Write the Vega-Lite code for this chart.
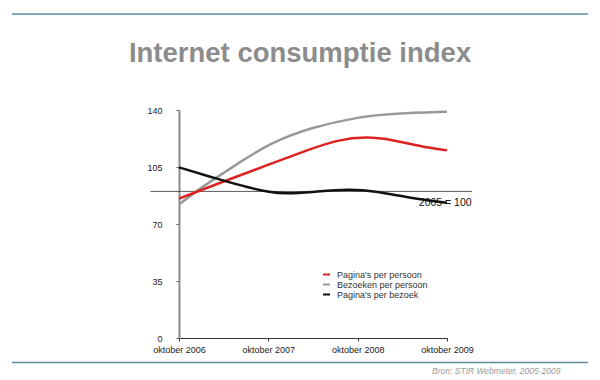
{
  "$schema": "https://vega.github.io/schema/vega-lite/v6.json",
  "width": 268,
  "height": 228,
  "autosize": {"type": "none"},
  "padding": {"left": 179, "top": 110, "right": 153, "bottom": 42},
  "background": "white",
  "config": {"view": {"stroke": null}, "font": "Liberation Sans"},
  "datasets": {
    "series": [
      {"t": 0, "series": "Bezoeken per persoon", "value": 81.9},
      {"t": 0.2, "series": "Bezoeken per persoon", "value": 90.5},
      {"t": 0.46, "series": "Bezoeken per persoon", "value": 100},
      {"t": 0.65, "series": "Bezoeken per persoon", "value": 106.8},
      {"t": 1.02, "series": "Bezoeken per persoon", "value": 119.7},
      {"t": 1.47, "series": "Bezoeken per persoon", "value": 129.2},
      {"t": 2.03, "series": "Bezoeken per persoon", "value": 136},
      {"t": 2.4, "series": "Bezoeken per persoon", "value": 137.8},
      {"t": 3, "series": "Bezoeken per persoon", "value": 138.9},
      {"t": 0, "series": "Pagina's per persoon", "value": 85.6},
      {"t": 0.5, "series": "Pagina's per persoon", "value": 96.1},
      {"t": 1, "series": "Pagina's per persoon", "value": 106.5},
      {"t": 1.47, "series": "Pagina's per persoon", "value": 116},
      {"t": 1.77, "series": "Pagina's per persoon", "value": 121.6},
      {"t": 2.1, "series": "Pagina's per persoon", "value": 123.8},
      {"t": 2.4, "series": "Pagina's per persoon", "value": 121.6},
      {"t": 2.7, "series": "Pagina's per persoon", "value": 117.7},
      {"t": 3, "series": "Pagina's per persoon", "value": 115.2},
      {"t": 0, "series": "Pagina's per bezoek", "value": 104.8},
      {"t": 0.46, "series": "Pagina's per bezoek", "value": 97.2},
      {"t": 0.76, "series": "Pagina's per bezoek", "value": 92.6},
      {"t": 1.02, "series": "Pagina's per bezoek", "value": 89.4},
      {"t": 1.2, "series": "Pagina's per bezoek", "value": 88.6},
      {"t": 1.47, "series": "Pagina's per bezoek", "value": 89.5},
      {"t": 1.91, "series": "Pagina's per bezoek", "value": 91.7},
      {"t": 2.21, "series": "Pagina's per bezoek", "value": 90},
      {"t": 2.59, "series": "Pagina's per bezoek", "value": 86},
      {"t": 3, "series": "Pagina's per bezoek", "value": 83}
    ]
  },
  "layer": [
    {
      "data": {"values": [{"x1": -1.87, "x2": 4.58, "y": 199}, {"x1": -1.87, "x2": 4.58, "y": -15}]},
      "mark": {"type": "rule", "color": "#5b8ca3", "strokeWidth": 1.5, "clip": false},
      "encoding": {
        "x": {"field": "x1", "type": "quantitative", "scale": {"domain": [0, 3]}},
        "x2": {"field": "x2"},
        "y": {"field": "y", "type": "quantitative", "scale": {"domain": [0, 140]}}
      }
    },
    {
      "data": {"values": [{"x": 1.355, "y": 169.6, "label": "Internet consumptie index"}]},
      "mark": {"type": "text", "fontSize": 27.5, "fontWeight": "bold", "color": "#8c8c8c", "align": "center", "baseline": "alphabetic", "clip": false},
      "encoding": {
        "x": {"field": "x", "type": "quantitative"},
        "y": {"field": "y", "type": "quantitative"},
        "text": {"field": "label"}
      }
    },
    {
      "data": {"values": [{"x1": -0.32, "x2": 3.28, "y": 90}]},
      "mark": {"type": "rule", "color": "#333333", "strokeWidth": 0.8, "clip": false},
      "encoding": {
        "x": {"field": "x1", "type": "quantitative"},
        "x2": {"field": "x2"},
        "y": {"field": "y", "type": "quantitative"}
      }
    },
    {
      "data": {"name": "series"},
      "mark": {"type": "line", "interpolate": "basis", "strokeWidth": 2.5},
      "encoding": {
        "x": {
          "field": "t",
          "type": "quantitative",
          "scale": {"domain": [0, 3], "nice": false, "zero": false},
          "axis": {
            "title": null,
            "values": [0, 1, 2, 3],
            "labelExpr": "'oktober ' + (2006 + datum.value)",
            "grid": false,
            "domainColor": "#333333",
            "domainWidth": 1,
            "tickColor": "#333333",
            "tickSize": 3,
            "labelFontSize": 9,
            "labelColor": "#222222",
            "labelPadding": 4,
            "labelFlush": false
          }
        },
        "y": {
          "field": "value",
          "type": "quantitative",
          "scale": {"domain": [0, 140], "nice": false},
          "axis": {
            "title": null,
            "values": [0, 35, 70, 105, 140],
            "grid": false,
            "domainColor": "#8a8a8a",
            "domainWidth": 2,
            "tickColor": "#555555",
            "tickSize": 3,
            "labelFontSize": 9,
            "labelColor": "#222222",
            "labelPadding": 14
          }
        },
        "color": {
          "field": "series",
          "type": "nominal",
          "sort": ["Pagina's per persoon", "Bezoeken per persoon", "Pagina's per bezoek"],
          "scale": {
            "domain": ["Pagina's per persoon", "Bezoeken per persoon", "Pagina's per bezoek"],
            "range": ["#dd2222", "#999999", "#111111"]
          },
          "legend": {
            "title": null,
            "orient": "none",
            "legendX": 143,
            "legendY": 160,
            "symbolType": "stroke",
            "symbolSize": 49,
            "symbolStrokeWidth": 2,
            "labelFontSize": 9,
            "labelColor": "#333333",
            "rowPadding": 0,
            "labelOffset": 6
          }
        },
        "order": {"field": "t"}
      }
    },
    {
      "data": {"values": [{"x": 2.98, "y": 81, "label": "2005 = 100"}]},
      "mark": {"type": "text", "fontSize": 10.5, "color": "#111111", "align": "center", "baseline": "alphabetic", "clip": false},
      "encoding": {
        "x": {"field": "x", "type": "quantitative"},
        "y": {"field": "y", "type": "quantitative"},
        "text": {"field": "label"}
      }
    },
    {
      "data": {"values": [{"x": 4.27, "y": -22.4, "label": "Bron: STIR Webmeter, 2005-2009"}]},
      "mark": {"type": "text", "fontSize": 8.5, "fontStyle": "italic", "color": "#9a9a9a", "align": "right", "baseline": "alphabetic", "clip": false},
      "encoding": {
        "x": {"field": "x", "type": "quantitative"},
        "y": {"field": "y", "type": "quantitative"},
        "text": {"field": "label"}
      }
    }
  ]
}
